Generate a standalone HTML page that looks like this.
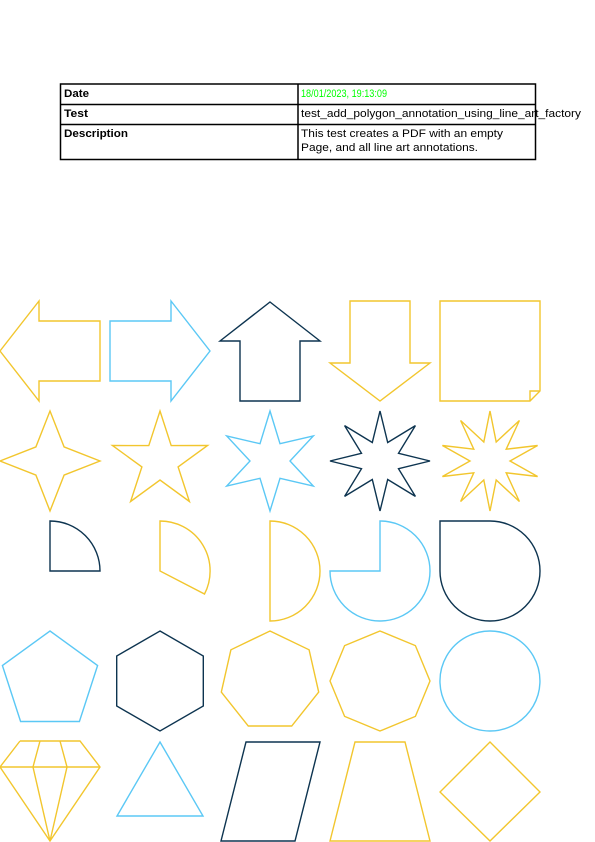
<!DOCTYPE html>
<html><head><meta charset="utf-8"><style>
html,body{margin:0;padding:0;background:#fff}
svg{display:block}
text{font-family:"Liberation Sans",sans-serif;font-size:11px}
</style></head><body>
<svg width="595" height="842" viewBox="0 0 595 842">
<g stroke="#000" stroke-width="1.5" fill="none">
<rect x="60.5" y="84" width="475" height="75.5"/>
<line x1="60" y1="104.5" x2="535" y2="104.5"/>
<line x1="60" y1="124.5" x2="535" y2="124.5"/>
<line x1="298" y1="84" x2="298" y2="160"/>
</g>
<text x="64" y="97" font-weight="bold" textLength="25" lengthAdjust="spacingAndGlyphs">Date</text>
<text x="301" y="97" fill="#00ff00" textLength="86" lengthAdjust="spacingAndGlyphs">18/01/2023, 19:13:09</text>
<text x="64" y="117" font-weight="bold" textLength="24" lengthAdjust="spacingAndGlyphs">Test</text>
<text x="301" y="117" textLength="280" lengthAdjust="spacingAndGlyphs">test_add_polygon_annotation_using_line_art_factory</text>
<text x="64" y="137" font-weight="bold" textLength="64" lengthAdjust="spacingAndGlyphs">Description</text>
<text x="301" y="137" textLength="202" lengthAdjust="spacingAndGlyphs">This test creates a PDF with an empty</text>
<text x="301" y="151" textLength="177" lengthAdjust="spacingAndGlyphs">Page, and all line art annotations.</text>
<g fill="none" stroke-width="1.4" stroke-linejoin="miter" id="shapes">
<polygon stroke="#F2C62E" points="0,351 39,301 39,321 100,321 100,381 39,381 39,401"/>
<polygon stroke="#5BC8F5" points="110,321 171,321 171,301 210,351 171,401 171,381 110,381"/>
<polygon stroke="#0D3450" points="270,302 320,341 300,341 300,401 240,401 240,341 220,341"/>
<polygon stroke="#F2C62E" points="350,301 410,301 410,363 430,363 380,401 330,363 350,363"/>
<polygon stroke="#F2C62E" points="440,301 540,301 540,391 530,401 440,401"/>
<polyline stroke="#F2C62E" points="530,401 530,391 540,391"/>
<path stroke="#0D3450" d="M50,521 L50,571 L100,571 A50,50 0 0 0 50,521 Z"/>
<path stroke="#F2C62E" d="M160,521 L160,571 L204.5,594 A50,50 0 0 0 160,521 Z"/>
<path stroke="#F2C62E" d="M270,521 L270,621 A50,50 0 0 0 270,521 Z"/>
<path stroke="#5BC8F5" d="M380,521 L380,571 L330,571 A50,50 0 1 0 380,521 Z"/>
<path stroke="#0D3450" d="M440,571 L440,521 L490,521 A50,50 0 1 1 440,571 Z"/>
<path stroke="#5BC8F5" d="M490,631 A50,50 0 1 1 489.9,631 Z"/>
<polyline stroke="#F2C62E" points="20,741 80,741 100,767 50,841 0,767 20,741"/>
<line stroke="#F2C62E" x1="0" y1="767" x2="100" y2="767"/>
<polyline stroke="#F2C62E" points="40,741 33,767 50,841"/>
<polyline stroke="#F2C62E" points="60,741 67,767 50,841"/>
<polygon stroke="#5BC8F5" points="160,742 203,816 117,816"/>
<polygon stroke="#0D3450" points="246,742 320,742 295,841 221,841"/>
<polygon stroke="#F2C62E" points="355,742 405,742 430,841 330,841"/>
<polygon stroke="#F2C62E" points="490,742 540,792 490,841 440,792"/>
</g>
</svg>
<script>
var polys = [["four-point-star",50,461,4,20,"#F2C62E"],["five-point-star",160,461,5,19,"#F2C62E"],["six-point-star",270,461,6,20,"#5BC8F5"],["eight-point-star",380,461,8,20,"#0D3450"],["ten-point-star",490,461,10,20,"#F2C62E"],["pentagon",50,681,5,0,"#5BC8F5"],["hexagon",160,681,6,0,"#0D3450"],["heptagon",270,681,7,0,"#F2C62E"],["octagon",380,681,8,0,"#F2C62E"]];
var g=document.getElementById('shapes');
polys.forEach(function(p){
  var pts=[],n=p[3],R=50,r=p[4];
  var steps=r?2*n:n;
  for(var i=0;i<steps;i++){
    var a=-Math.PI/2+i*2*Math.PI/steps;
    var rad=(r&&i%2)?r:R;
    pts.push((p[1]+rad*Math.cos(a)).toFixed(1)+','+(p[2]+rad*Math.sin(a)).toFixed(1));
  }
  var el=document.createElementNS('http://www.w3.org/2000/svg','polygon');
  el.setAttribute('points',pts.join(' '));
  el.setAttribute('stroke',p[5]);
  
  
  g.appendChild(el);
});
</script>
</body></html>
